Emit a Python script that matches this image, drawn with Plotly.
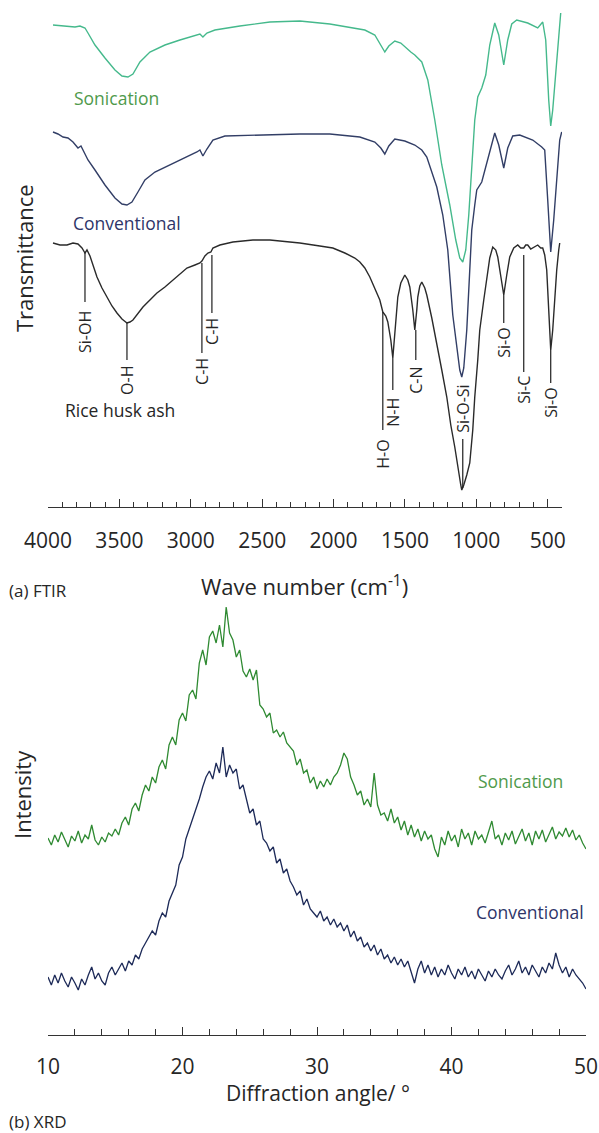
import plotly.graph_objects as go

# ---------------- FTIR data (wavenumber cm-1, transmittance a.u., offset traces) ----------------
son_wn = [3965, 3881, 3811, 3776, 3741, 3720, 3671, 3601, 3531, 3482, 3440, 3405, 3356, 3286, 3181, 3076,
          2971, 2936, 2915, 2887, 2831, 2656, 2446, 2236, 2026, 1886, 1781, 1711, 1669, 1641, 1613, 1571,
          1529, 1494, 1459, 1431, 1382, 1340, 1291, 1242, 1186, 1144, 1116, 1095, 1074, 1053, 1032, 1011,
          990, 962, 934, 906, 871, 843, 808, 780, 752, 717, 640, 570, 535, 514, 493, 479, 465, 444, 423, 409]
son_t = [96.4, 96.2, 96.0, 96.2, 95.8, 94.8, 92.4, 89.8, 87.4, 86.2, 86.0, 86.6, 89.0, 91.0, 92.4, 93.4,
         94.2, 94.6, 94.0, 94.8, 95.4, 96.2, 97.0, 97.2, 96.6, 96.0, 95.4, 94.4, 92.4, 91.0, 92.2, 93.2,
         92.8, 91.8, 91.0, 90.4, 89.0, 85.4, 77.4, 68.4, 60.4, 53.4, 49.8, 49.0, 51.4, 58.4, 67.4, 77.4,
         82.0, 83.8, 86.4, 92.4, 96.8, 94.4, 88.4, 93.4, 96.6, 97.4, 96.8, 95.8, 97.0, 93.4, 81.4, 76.2,
         79.4, 87.4, 95.4, 98.8]

conv_wn = [3965, 3930, 3895, 3860, 3825, 3790, 3769, 3748, 3720, 3671, 3601, 3531, 3482, 3447, 3412, 3370,
           3321, 3251, 3146, 3041, 2957, 2936, 2915, 2887, 2845, 2761, 2516, 2236, 2026, 1816, 1711, 1669,
           1641, 1613, 1571, 1501, 1431, 1382, 1347, 1312, 1277, 1235, 1200, 1165, 1137, 1116, 1102, 1088,
           1067, 1046, 1032, 1011, 997, 962, 941, 906, 871, 843, 808, 780, 745, 696, 605, 542, 521, 500,
           479, 458, 437, 416, 402]
conv_t = [75.0, 74.6, 74.0, 73.8, 73.0, 71.8, 72.2, 71.0, 69.4, 67.4, 64.4, 61.8, 60.6, 60.4, 61.0, 63.0,
          65.4, 67.0, 68.4, 69.8, 71.0, 71.4, 70.2, 71.6, 73.4, 74.2, 74.4, 74.6, 74.6, 74.0, 73.0, 71.8,
          70.6, 72.2, 73.6, 73.2, 72.4, 71.4, 70.0, 67.0, 64.0, 58.4, 51.4, 38.4, 31.4, 27.4, 26.0, 27.8,
          35.4, 47.4, 55.4, 60.4, 63.4, 65.0, 67.4, 71.4, 74.8, 72.4, 67.8, 71.8, 74.2, 74.4, 73.4, 72.0,
          71.4, 61.4, 51.0, 57.4, 66.4, 73.4, 75.0]

rha_wn = [3965, 3916, 3867, 3825, 3790, 3762, 3741, 3727, 3706, 3678, 3657, 3622, 3587, 3552, 3517, 3482,
          3447, 3426, 3405, 3370, 3335, 3286, 3237, 3181, 3125, 3076, 3027, 2971, 2936, 2922, 2901, 2880,
          2859, 2845, 2796, 2705, 2565, 2446, 2236, 2096, 2005, 1921, 1851, 1816, 1781, 1746, 1711, 1676,
          1655, 1634, 1620, 1599, 1585, 1571, 1550, 1529, 1501, 1480, 1466, 1445, 1431, 1417, 1410, 1396,
          1382, 1361, 1347, 1312, 1277, 1242, 1207, 1179, 1151, 1130, 1109, 1102, 1088, 1067, 1046, 1025,
          1011, 990, 976, 948, 927, 906, 885, 864, 850, 829, 808, 787, 766, 738, 710, 689, 668, 654, 640,
          619, 605, 584, 570, 549, 535, 521, 507, 493, 479, 465, 451, 437, 423, 416]
rha_t = [52.8, 52.4, 52.4, 52.8, 52.6, 51.8, 50.8, 51.4, 50.2, 48.0,
         46.0, 43.8, 42.0, 40.2, 38.8, 37.6, 36.8, 37.0, 37.4, 38.6,
         40.0, 41.4, 42.8, 44.0, 45.4, 46.6, 47.8, 48.4, 48.8, 49.2,
         50.2, 50.8, 51.0, 51.8, 52.4, 53.0, 53.4, 53.4, 52.8, 52.2,
         51.8, 50.8, 49.8, 49.0, 47.8, 46.0, 43.8, 41.4, 39.0, 38.2,
         37.0, 33.4, 29.8, 34.4, 42.0, 44.8, 46.4, 45.4, 44.0, 39.4,
         35.4, 39.4, 42.0, 44.2, 45.0, 43.8, 42.4, 37.8, 32.8, 27.4,
         22.0, 16.4, 12.0, 7.8, 4.4, 3.4, 4.4, 6.4, 8.8, 15.4,
         22.0, 29.4, 35.4, 41.4, 45.4, 49.8, 52.0, 51.4, 50.0, 46.4,
         42.4, 46.4, 50.0, 51.8, 52.4, 51.8, 51.8, 52.4, 52.4, 51.6,
         51.8, 52.2, 52.4, 51.8, 51.8, 50.4, 47.4, 39.4, 31.4, 35.4,
         42.0, 47.4, 51.4, 52.8]

# band assignments on the rice husk ash spectrum
band_labels = ["Si-OH", "O-H", "C-H", "C-H", "H-O", "N-H", "C-N", "Si-O-Si", "Si-O", "Si-C", "Si-O"]
band_wn = [3741, 3447, 2922, 2852, 1655, 1585, 1424, 1095, 808, 668, 479]
band_line_top = [50.8, 36.8, 48.8, 50.4, 39.0, 29.8, 35.4, 13.6, 42.4, 50.4, 31.4]
band_line_bottom = [41.0, 29.4, 30.8, 38.8, 15.4, 23.4, 29.4, 3.8, 36.8, 27.0, 24.8]
band_text_t = [35.0, 25.4, 27.2, 35.2, 10.6, 19.0, 25.4, 19.6, 32.8, 23.4, 20.8]

ftir_ticks = [4000, 3500, 3000, 2500, 2000, 1500, 1000, 500]

# ---------------- XRD data (step scan 10-50 deg, 0.25 deg step, intensity a.u.) ----------------
xrd_start = 10.0
xrd_step = 0.25
xrd_son = [197, 190, 200, 193, 203, 195, 188, 199, 194, 204, 192, 200, 196, 210, 195, 190,
           198, 193, 202, 199, 206, 200, 212, 218, 210, 226, 232, 224, 240, 250, 244, 258,
           252, 268, 275, 266, 290, 298, 290, 315, 322, 314, 340, 345, 336, 372, 385, 370,
           398, 404, 392, 410, 388, 428, 402, 395, 378, 385, 364, 358, 366, 355, 365, 330,
           326, 318, 322, 302, 305, 298, 303, 292, 288, 284, 270, 276, 262, 265, 252, 258,
           246, 254, 248, 256, 250, 258, 262, 270, 282, 276, 258, 250, 240, 244, 230, 236,
           228, 262, 230, 220, 222, 214, 226, 212, 218, 205, 214, 200, 210, 198, 206, 194,
           204, 196, 200, 186, 178, 198, 190, 204, 194, 200, 188, 206, 196, 202, 190, 204,
           196, 200, 192, 202, 214, 196, 200, 190, 202, 195, 204, 191, 199, 206, 194, 202,
           190, 204, 196, 205, 193, 200, 208, 196, 203, 199, 207, 198, 205, 195, 200, 192,
           186]
xrd_conv = [58, 50, 60, 52, 62, 54, 48, 58, 52, 45, 56, 50, 60, 68, 56, 62,
            54, 50, 62, 68, 60, 66, 72, 64, 74, 70, 80, 76, 86, 92, 98, 104,
            100, 114, 122, 118, 134, 142, 150, 170, 178, 196, 206, 214, 226, 236, 248, 258,
            264, 256, 272, 262, 288, 258, 270, 262, 266, 246, 250, 236, 222, 226, 210, 214,
            196, 192, 184, 188, 172, 176, 162, 166, 154, 148, 140, 144, 130, 136, 126, 122,
            118, 124, 114, 118, 110, 116, 108, 112, 104, 110, 98, 104, 94, 98, 88, 92,
            84, 90, 80, 86, 76, 80, 72, 78, 70, 76, 68, 74, 64, 52, 66, 74,
            62, 70, 60, 68, 58, 66, 60, 70, 62, 56, 66, 60, 68, 58, 64, 56,
            66, 60, 54, 64, 58, 66, 60, 56, 64, 70, 60, 66, 74, 62, 68, 60,
            70, 64, 58, 68, 62, 72, 66, 82, 70, 62, 68, 58, 66, 60, 56, 52,
            46]
xrd_ticks = [10, 20, 30, 40, 50]

son_angle = [xrd_start + i * xrd_step for i in range(len(xrd_son))]
conv_angle = [xrd_start + i * xrd_step for i in range(len(xrd_conv))]

# ---------------- styling ----------------
FONT = "Open Sans"
W, H = 599, 1133
C_SON_FTIR = "#45b98c"
C_CONV_FTIR = "#323e66"
C_RHA = "#2a2a2a"
C_SON_XRD = "#2f8a32"
C_CONV_XRD = "#1d2a58"
TXT = "#262626"


def py(p):
    return 1 - p / H


fig = go.Figure()
fig.add_trace(go.Scatter(x=son_wn, y=son_t, mode="lines", line=dict(color=C_SON_FTIR, width=1.4),
                         xaxis="x", yaxis="y", hoverinfo="skip"))
fig.add_trace(go.Scatter(x=conv_wn, y=conv_t, mode="lines", line=dict(color=C_CONV_FTIR, width=1.4),
                         xaxis="x", yaxis="y", hoverinfo="skip"))
fig.add_trace(go.Scatter(x=rha_wn, y=rha_t, mode="lines", line=dict(color=C_RHA, width=1.4),
                         xaxis="x", yaxis="y", hoverinfo="skip"))
fig.add_trace(go.Scatter(x=son_angle, y=xrd_son, mode="lines", line=dict(color=C_SON_XRD, width=1.3),
                         xaxis="x2", yaxis="y2", hoverinfo="skip"))
fig.add_trace(go.Scatter(x=conv_angle, y=xrd_conv, mode="lines", line=dict(color=C_CONV_XRD, width=1.3),
                         xaxis="x2", yaxis="y2", hoverinfo="skip"))

shapes = []
annotations = []
for lab_, wn, t0, t1, tt in zip(band_labels, band_wn, band_line_top, band_line_bottom, band_text_t):
    shapes.append(dict(type="line", xref="x", yref="y", x0=wn, x1=wn, y0=t0, y1=t1,
                       line=dict(color="#1e1e1e", width=1.2)))
    annotations.append(dict(x=wn, y=tt, xref="x", yref="y", text=lab_, textangle=-90, showarrow=False,
                            xanchor="center", yanchor="middle",
                            font=dict(family=FONT, size=16, color=TXT)))


def lab(x, y, text, size, color=TXT, xref="paper", yref="paper", angle=0, xanchor="center"):
    return dict(x=x, y=y, xref=xref, yref=yref, text=text, textangle=angle, showarrow=False,
                xanchor=xanchor, yanchor="middle", font=dict(family=FONT, size=size, color=color))


# series labels
annotations += [
    lab(3517, 81.8, "Sonication", 17.5, "#4f9a4c", "x", "y"),
    lab(3447, 56.8, "Conventional", 17.5, "#2e3568", "x", "y"),
    lab(3496, 19.4, "Rice husk ash", 17.5, TXT, "x", "y"),
    lab(45.1, 254, "Sonication", 17.5, "#4f9a4c", "x2", "y2"),
    lab(45.8, 123, "Conventional", 17.5, "#2e3568", "x2", "y2"),
]

# axis titles and panel captions
annotations += [
    lab(24 / W, py(258), "Transmittance", 22, angle=-90),
    lab(22 / W, py(795), "Intensity", 22, angle=-90),
    lab(304 / W, py(585), "Wave number (cm<sup>-1</sup>)", 22),
    lab(7 / W, py(590), "(a) FTIR", 17, xanchor="left"),
    lab(318 / W, py(1093), "Diffraction angle/ °", 21),
    lab(7 / W, py(1121), "(b) XRD", 17, xanchor="left"),
]

axis_common = dict(showline=True, linecolor="#333333", linewidth=1.3, ticks="inside", ticklen=8,
                   tickwidth=1.2, tickcolor="#333333", showgrid=False, zeroline=False, automargin=False,
                   tickfont=dict(family=FONT, size=21, color=TXT))

fig.update_layout(
    width=W, height=H, margin=dict(l=0, r=0, t=0, b=0, pad=0, autoexpand=False),
    paper_bgcolor="white", plot_bgcolor="white", showlegend=False,
    font=dict(family=FONT, color=TXT),
    xaxis=dict(domain=[48 / W, 562 / W], range=[4000, 400], anchor="y",
               tickmode="array", tickvals=ftir_ticks, ticklabelstandoff=15,
               minor=dict(dtick=100, tick0=400, ticklen=5, ticks="inside", tickcolor="#333333", tickwidth=1),
               **axis_common),
    yaxis=dict(domain=[py(507), 1.0], range=[0, 101.4], visible=False, automargin=False),
    xaxis2=dict(domain=[48 / W, 586 / W], range=[10, 50], anchor="y2",
                tickmode="array", tickvals=xrd_ticks, ticklabelstandoff=13,
                minor=dict(dtick=2, tick0=10, ticklen=6, ticks="inside", tickcolor="#333333", tickwidth=1),
                **axis_common),
    yaxis2=dict(domain=[py(1035), py(595)], range=[0, 440], visible=False, automargin=False),
    shapes=shapes,
    annotations=annotations,
)

fig.write_html("out.html")
